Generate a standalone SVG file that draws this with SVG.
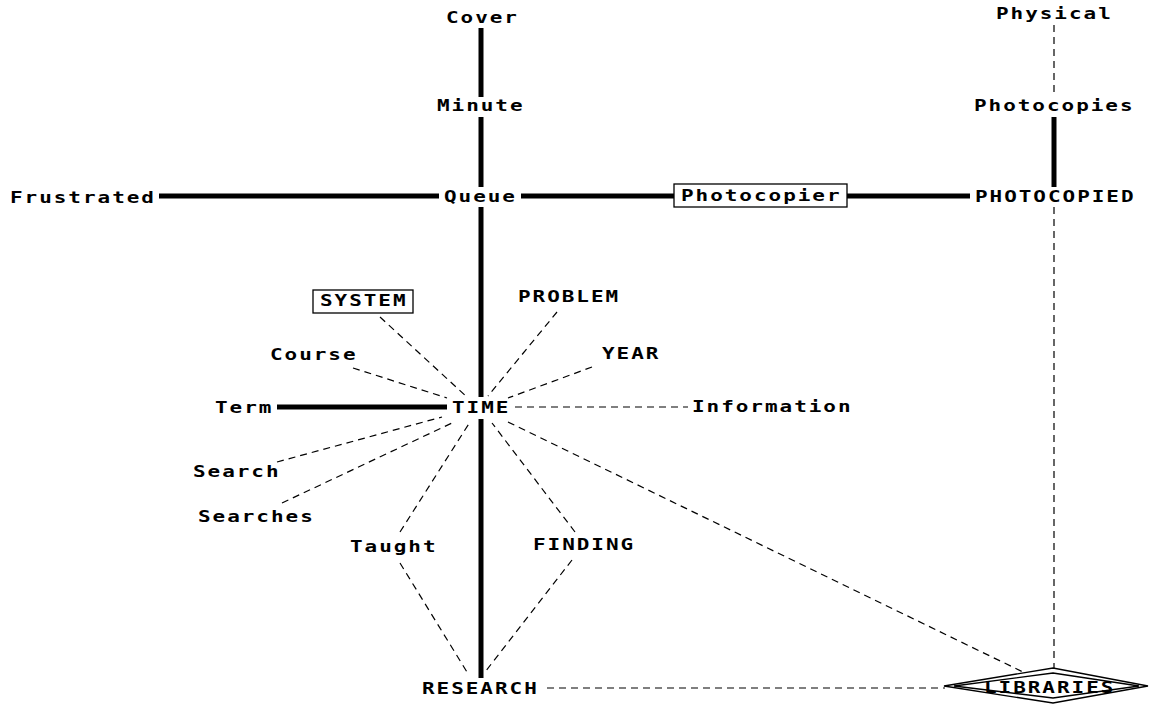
<svg xmlns="http://www.w3.org/2000/svg" width="1149" height="704" viewBox="0 0 1149 704">
  <style>
    .lbl { font-family: "DejaVu Sans Mono", "Liberation Mono", monospace; font-weight: bold; font-size: 15px; letter-spacing: 1.4px; fill: #000; }
    .box { fill: #fff; stroke: #000; stroke-width: 1.3; }
    .strong { stroke: #000; stroke-width: 5; fill: none; }
    .weak { stroke: #000; stroke-width: 1.2; stroke-dasharray: 7 5; fill: none; }
  </style>
  <rect width="1149" height="704" fill="#fff"/>

  <!-- connectors -->
  <g id="connectors">
    <line class="strong" x1="481" y1="28" x2="481" y2="97"/>
    <line class="strong" x1="481" y1="117" x2="481" y2="187"/>
    <line class="strong" x1="159" y1="196" x2="439" y2="196"/>
    <line class="strong" x1="521" y1="196" x2="674" y2="196"/>
    <line class="strong" x1="847" y1="196" x2="970" y2="196"/>
    <line class="strong" x1="1054" y1="117" x2="1054" y2="187"/>
    <line class="strong" x1="481" y1="207" x2="481" y2="397"/>
    <line class="strong" x1="277" y1="407" x2="447" y2="407"/>
    <line class="strong" x1="481" y1="419" x2="481" y2="678"/>

    <line class="weak" x1="1054" y1="25" x2="1054" y2="96"/>
    <line class="weak" x1="1054" y1="207" x2="1054" y2="669"/>
    <line class="weak" x1="380" y1="317" x2="468" y2="398"/>
    <line class="weak" x1="353" y1="368" x2="447" y2="398"/>
    <line class="weak" x1="557" y1="312" x2="488" y2="396"/>
    <line class="weak" x1="592" y1="367" x2="508" y2="398"/>
    <line class="weak" x1="515" y1="407" x2="688" y2="407"/>
    <line class="weak" x1="277" y1="462" x2="442" y2="417"/>
    <line class="weak" x1="282" y1="503" x2="452" y2="423"/>
    <line class="weak" x1="400" y1="532" x2="470" y2="422"/>
    <line class="weak" x1="575" y1="532" x2="492" y2="423"/>
    <line class="weak" x1="508" y1="422" x2="1025" y2="673"/>
    <line class="weak" x1="400" y1="563" x2="467" y2="672"/>
    <line class="weak" x1="572" y1="560" x2="485" y2="672"/>
    <line class="weak" x1="547" y1="688" x2="945" y2="688"/>
  </g>

  <!-- nodes (labels widened horizontally to a blocky look) -->
  <g id="cover"><text class="lbl" transform="translate(446,23) scale(1.4,1)">Cover</text></g>
  <g id="minute"><text class="lbl" transform="translate(437,111) scale(1.4,1)">Minute</text></g>
  <g id="frustrated"><text class="lbl" transform="translate(10,203) scale(1.4,1)">Frustrated</text></g>
  <g id="queue"><text class="lbl" transform="translate(444,202) scale(1.4,1)">Queue</text></g>
  <g id="photocopier">
    <rect class="box" x="674" y="184" width="173" height="23"/>
    <text class="lbl" transform="translate(681,201) scale(1.4,1)">Photocopier</text>
  </g>
  <g id="photocopied"><text class="lbl" transform="translate(975,202) scale(1.4,1)">PHOTOCOPIED</text></g>
  <g id="physical"><text class="lbl" transform="translate(996,19) scale(1.4,1)">Physical</text></g>
  <g id="photocopies"><text class="lbl" transform="translate(974,111) scale(1.4,1)">Photocopies</text></g>
  <g id="system">
    <rect class="box" x="313" y="290" width="100" height="23"/>
    <text class="lbl" transform="translate(320,306) scale(1.4,1)">SYSTEM</text>
  </g>
  <g id="problem"><text class="lbl" transform="translate(518,302) scale(1.4,1)">PROBLEM</text></g>
  <g id="course"><text class="lbl" transform="translate(270,360) scale(1.4,1)">Course</text></g>
  <g id="year"><text class="lbl" transform="translate(602,359) scale(1.4,1)">YEAR</text></g>
  <g id="term"><text class="lbl" transform="translate(215,413) scale(1.4,1)">Term</text></g>
  <g id="time"><text class="lbl" transform="translate(452,413) scale(1.4,1)">TIME</text></g>
  <g id="information"><text class="lbl" transform="translate(692,412) scale(1.4,1)">Information</text></g>
  <g id="search"><text class="lbl" transform="translate(193,477) scale(1.4,1)">Search</text></g>
  <g id="searches"><text class="lbl" transform="translate(198,522) scale(1.4,1)">Searches</text></g>
  <g id="taught"><text class="lbl" transform="translate(350,552) scale(1.4,1)">Taught</text></g>
  <g id="finding"><text class="lbl" transform="translate(533,550) scale(1.4,1)">FINDING</text></g>
  <g id="research"><text class="lbl" transform="translate(422,694) scale(1.4,1)">RESEARCH</text></g>
  <g id="libraries">
    <polygon class="box" points="944,686 1053,668 1148,686 1053,703"/>
    <polygon class="box" fill="none" points="954,686 1053,673 1139,686 1053,698"/>
    <text class="lbl" transform="translate(984,693) scale(1.4,1)">LIBRARIES</text>
  </g>
</svg>
